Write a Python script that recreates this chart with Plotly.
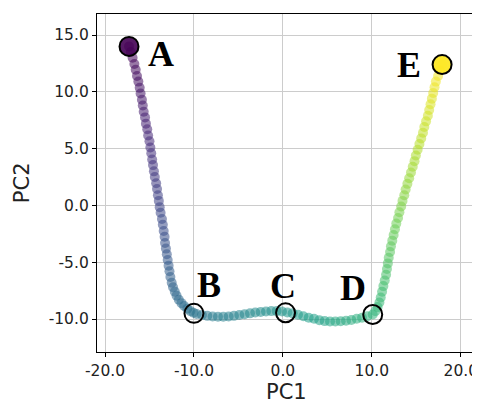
import plotly.graph_objects as go

# Trajectory points (PC1, PC2), A -> E
pc1 = [
    -17.3, -17.1, -16.9, -16.7, -16.55, -16.4, -16.25, -16.1, -16.0, -15.85,
    -15.75, -15.65, -15.5, -15.4, -15.25, -15.15, -15.0, -14.9, -14.8, -14.7,
    -14.6, -14.5, -14.4, -14.25, -14.15, -14.05, -13.95, -13.85, -13.75, -13.6,
    -13.5, -13.4, -13.3, -13.25, -13.15, -13.05, -12.95, -12.85, -12.75, -12.65,
    -12.5, -12.35, -12.15, -11.95, -11.7, -11.4, -11.1, -10.75, -10.4, -10.05,
    -9.7, -9.1, -8.5, -7.9, -7.3, -6.7, -6.1, -5.5, -4.9, -4.3,
    -3.7, -3.1, -2.5, -1.9, -1.3, -0.7, -0.1, 0.5, 1.1, 1.7,
    2.3, 2.9, 3.5, 4.1, 4.7, 5.3, 5.9, 6.5, 7.1, 7.7,
    8.3, 8.9, 9.5, 10.1, 10.4, 10.65, 10.85, 11.0, 11.15, 11.3,
    11.45, 11.6, 11.7, 11.8, 11.9, 12.05, 12.15, 12.3, 12.45, 12.6,
    12.75, 12.95, 13.1, 13.3, 13.45, 13.65, 13.8, 14.0, 14.2, 14.4,
    14.6, 14.8, 14.95, 15.15, 15.35, 15.55, 15.75, 15.9, 16.1, 16.3,
    16.45, 16.6, 16.75, 16.9, 17.05, 17.2, 17.45, 17.65, 17.9,
]
pc2 = [
    14.0, 13.5, 13.0, 12.45, 11.95, 11.4, 10.9, 10.35, 9.85, 9.3,
    8.8, 8.25, 7.75, 7.2, 6.7, 6.15, 5.65, 5.1, 4.6, 4.05,
    3.55, 3.0, 2.5, 1.95, 1.45, 0.9, 0.4, -0.15, -0.65, -1.2,
    -1.7, -2.25, -2.75, -3.3, -3.8, -4.3, -4.8, -5.3, -5.8, -6.3,
    -6.8, -7.2, -7.6, -7.95, -8.3, -8.6, -8.85, -9.1, -9.3, -9.45,
    -9.55, -9.65, -9.72, -9.78, -9.8, -9.8, -9.77, -9.72, -9.65, -9.57,
    -9.5, -9.43, -9.38, -9.33, -9.3, -9.3, -9.33, -9.42, -9.5, -9.62,
    -9.75, -9.88, -9.98, -10.1, -10.18, -10.22, -10.22, -10.2, -10.15, -10.08,
    -9.98, -9.88, -9.75, -9.6, -9.3, -8.95, -8.55, -8.1, -7.6, -7.1,
    -6.6, -6.1, -5.6, -5.1, -4.6, -4.1, -3.6, -3.1, -2.6, -2.1,
    -1.6, -1.1, -0.6, -0.1, 0.4, 0.9, 1.4, 1.9, 2.4, 2.9,
    3.4, 3.9, 4.4, 4.9, 5.4, 5.9, 6.4, 6.9, 7.4, 7.9,
    8.4, 8.9, 9.4, 9.9, 10.4, 10.9, 11.4, 11.9, 12.4,
]

# Highlighted states
key_labels = ["A", "B", "C", "D", "E"]
key_x = [-17.3, -10.0, 0.3, 10.1, 17.9]
key_y = [14.0, -9.5, -9.45, -9.6, 12.4]
key_fill = ["rgba(68,1,84,0.9)", "rgba(0,0,0,0)", "rgba(0,0,0,0)", "rgba(0,0,0,0)", "rgba(253,231,37,0.95)"]
label_x = [-13.7, -8.3, 0.0, 7.9, 14.2]
label_y = [13.3, -7.0, -7.1, -7.3, 12.4]

x_ticks = [-20, -10, 0, 10, 20]
x_tick_text = ["-20.0", "-10.0", "0.0", "10.0", "20.0"]
y_ticks = [-10, -5, 0, 5, 10, 15]
y_tick_text = ["-10.0", "-5.0", "0.0", "5.0", "10.0", "15.0"]

fig = go.Figure()
fig.add_trace(go.Scatter(
    x=pc1, y=pc2, mode="markers",
    marker=dict(size=10, color=list(range(len(pc1))), colorscale="Viridis",
                opacity=0.55, line=dict(width=0)),
    showlegend=False, hoverinfo="skip",
))
fig.add_trace(go.Scatter(
    x=key_x, y=key_y, mode="markers",
    marker=dict(size=19, color=key_fill, line=dict(color="black", width=2)),
    showlegend=False, hoverinfo="skip",
))
for t, lx, ly in zip(key_labels, label_x, label_y):
    fig.add_annotation(x=lx, y=ly, text="<b>" + t + "</b>", showarrow=False,
                       font=dict(family="Liberation Serif", size=36, color="black"),
                       xanchor="center", yanchor="middle")

title_font = dict(family="DejaVu Sans", size=21, color="#222")
fig.add_annotation(x=0.5, y=-0.117, xref="paper", yref="paper", text="PC1",
                   showarrow=False, font=title_font, xanchor="center", yanchor="middle")
fig.add_annotation(x=-0.198, y=0.5, xref="paper", yref="paper", text="PC2", textangle=-90,
                   showarrow=False, font=title_font, xanchor="center", yanchor="middle")

axis_common = dict(
    showline=True, mirror=True, linecolor="black", linewidth=1.3,
    showgrid=True, gridcolor="#cccccc", gridwidth=1, zeroline=False,
    ticks="outside", ticklen=4, tickwidth=1.2, tickcolor="black",
    tickfont=dict(family="DejaVu Sans", size=15.5, color="#222"),
    automargin=False,
)
fig.update_xaxes(range=[-20.9, 21.6], tickvals=x_ticks, ticktext=x_tick_text, **axis_common)
fig.update_yaxes(range=[-12.9, 16.85], tickvals=y_ticks, ticktext=y_tick_text, **axis_common)
fig.update_layout(
    width=472, height=397,
    margin=dict(l=89, r=5, t=6, b=53),
    plot_bgcolor="white", paper_bgcolor="white",
)
fig.write_html("out.html")
